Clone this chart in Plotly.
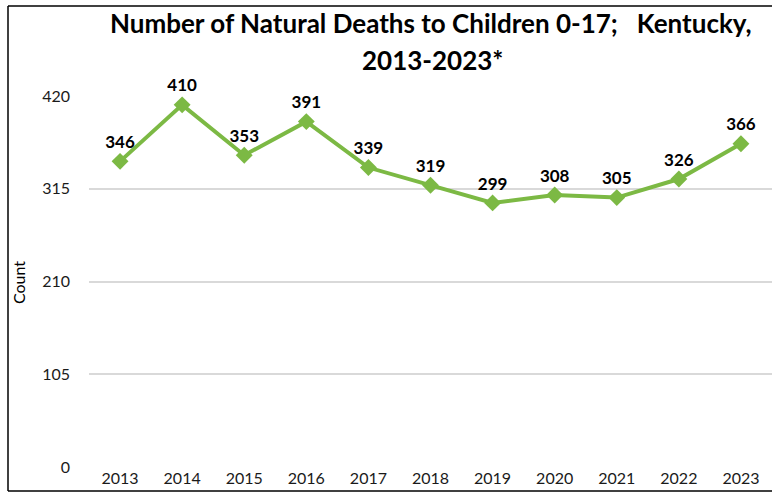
import plotly.graph_objects as go

years = ["2013", "2014", "2015", "2016", "2017", "2018", "2019", "2020", "2021", "2022", "2023"]
deaths = [346, 410, 353, 391, 339, 319, 299, 308, 305, 326, 366]
y_ticks = [0, 105, 210, 315, 420]

green = "#7CB944"
font = "Lato"

# plot area in pixels
L, T, W, H = 89, 96, 683, 371
B = T + H


def px(x):
    return (x - L) / W


def py(y):
    return (B - y) / H


fig = go.Figure()
fig.add_trace(go.Scatter(
    x=years,
    y=deaths,
    mode="lines+markers+text",
    line=dict(color=green, width=4),
    marker=dict(symbol="diamond", size=13, color=green),
    text=[str(v) for v in deaths],
    textposition="top center",
    textfont=dict(family=font, size=17, color="black", weight="bold"),
    cliponaxis=False,
    showlegend=False,
))

title_font = dict(family=font, size=26, color="black", weight="bold")
border = dict(color="black", width=1.5)

fig.update_layout(
    width=772,
    height=493,
    margin=dict(l=L, r=772 - L - W, t=T, b=493 - B),
    paper_bgcolor="white",
    plot_bgcolor="white",
    xaxis=dict(
        type="category",
        range=[-0.5, 10.5],
        showgrid=False,
        showline=False,
        ticks="",
        automargin=False,
        tickfont=dict(family=font, size=16, color="#1a1a1a"),
    ),
    yaxis=dict(
        range=[0, 420],
        tickvals=y_ticks,
        showgrid=True,
        gridcolor="#D9D9D9",
        gridwidth=2,
        zeroline=False,
        showline=False,
        ticks="",
        automargin=False,
        ticklabelstandoff=18,
        tickfont=dict(family=font, size=16, color="#1a1a1a"),
    ),
    annotations=[
        dict(text="Number of Natural Deaths to Children 0-17;   Kentucky,",
             xref="paper", yref="paper", x=px(431), y=py(23),
             xanchor="center", yanchor="middle", showarrow=False, font=title_font),
        dict(text="2013-2023*",
             xref="paper", yref="paper", x=px(432), y=py(60),
             xanchor="center", yanchor="middle", showarrow=False, font=title_font),
        dict(text="Count", textangle=-90,
             xref="paper", yref="paper", x=px(18), y=py(283),
             xanchor="center", yanchor="middle", showarrow=False,
             font=dict(family=font, size=16, color="black")),
    ],
    shapes=[
        # outer chart border (left, top, bottom; right side is cropped off)
        dict(type="line", xref="paper", yref="paper",
             x0=px(8), x1=px(8), y0=py(491), y1=py(6), line=border),
        dict(type="line", xref="paper", yref="paper",
             x0=px(8), x1=px(780), y0=py(6), y1=py(6), line=border),
        dict(type="line", xref="paper", yref="paper",
             x0=px(8), x1=px(780), y0=py(491), y1=py(491), line=border),
    ],
)

fig.write_html(
    "out.html",
    config={"displayModeBar": False},
    post_script="document.body.style.margin='0';document.body.style.overflow='hidden';",
)
